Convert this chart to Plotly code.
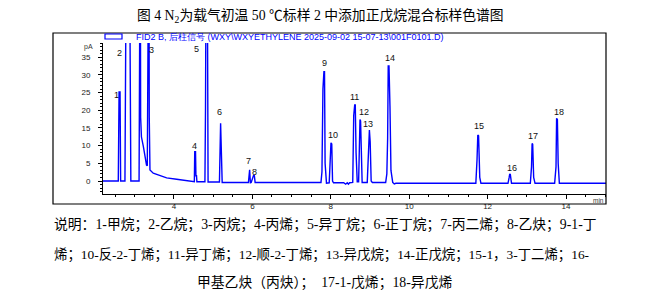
import plotly.graph_objects as go

# ---- data ----
rt_min = [2.19, 2.58, 2.60, 2.625, 2.64, 2.75, 2.77, 2.80, 2.84, 2.88, 2.90,
          3.11, 3.125, 3.14, 3.15, 3.17, 3.22, 3.26, 3.30, 3.32, 3.33, 3.345, 3.36, 3.37,
          3.388, 3.472, 3.643, 3.813, 4.068, 4.281, 4.493,
          4.52, 4.53, 4.55, 4.56, 4.575, 4.585,
          4.79, 4.805, 4.825, 4.845, 4.86, 4.87,
          5.16, 5.175, 5.19, 5.20, 5.215, 5.23,
          5.90, 5.915, 5.93, 5.95, 5.97, 6.03, 6.05, 6.07,
          7.75, 7.775, 7.80, 7.825, 7.84, 7.855, 7.87, 7.89,
          7.96, 7.99, 8.005, 8.025, 8.045, 8.07,
          8.33, 8.38, 8.42, 8.45, 8.48,
          8.56, 8.585, 8.61, 8.625, 8.645, 8.675,
          8.71, 8.73, 8.745, 8.76, 8.775, 8.80,
          8.93, 8.955, 8.97, 8.985, 9.005, 9.03, 9.06,
          9.40, 9.43, 9.45, 9.465, 9.485, 9.51, 9.535, 9.58, 9.62, 9.66,
          11.0, 11.70, 11.73, 11.75, 11.77, 11.80, 11.83,
          12.52, 12.55, 12.565, 12.58, 12.61,
          13.09, 13.12, 13.135, 13.15, 13.175, 13.21,
          13.71, 13.745, 13.76, 13.78, 13.80, 13.83, 15.02]
signal_pa = [0.0, 0.0, 25.2, 25.2, 0.0, 0.0, 40, 90, 90, 40, 0.0,
             0.0, 80, 80, 18, 12.5, 9.7, 6.9, 4.5, 4.3, 32, 80, 80, 18,
             3.1, 2.2, 1.5, 0.9, 0.5, 0.1, -0.1,
             -0.2, 8.3, 8.3, 1.5, 1.5, -0.2,
             -0.2, 21, 80, 80, 0.0, -0.3,
             -0.3, 16.3, 16.3, 12, -0.3, -0.4,
             -0.4, 3.2, 3.2, -0.5, -0.4, 1.6, 1.6, -0.4,
             -0.4, 2.6, 26, 30.9, 30.9, 5, 1.5, -0.6,
             -0.5, 5.5, 10.8, 10.5, 0.0, -0.5,
             -0.5, -0.9, -0.5, -0.9, -0.5,
             -0.4, 18.5, 21.5, 21.5, 8, -0.2,
             -0.2, 15, 17.4, 17.0, 8, -0.4,
             -0.4, 8, 14.4, 14.4, 11, 0.0, -0.4,
             -0.4, 2, 12, 32.5, 32.5, 21, 3, -0.4, -0.8, -0.65,
             -0.65, -0.65, 6, 13, 12.8, 1, -0.65,
             -0.65, 1, 2.0, 1.8, -0.65,
             -0.65, 4, 10.6, 10.4, 1, -0.65,
             -0.65, 4, 17.7, 17.4, 5, -0.65, -0.65]

peak_labels = ["1", "2", "3", "4", "5", "6", "7", "8", "9", "10",
               "11", "12", "13", "14", "15", "16", "17", "18"]
label_x = [2.546, 2.622, 3.439, 4.536, 4.579, 5.173, 5.913, 6.066, 7.827, 8.048,
           8.617, 8.847, 8.941, 9.51, 11.773, 12.622, 13.15, 13.814]
label_y = [24.3, 36.2, 37.0, 10.0, 37.3, 19.6, 5.6, 2.6, 33.4, 13.0,
           23.8, 19.4, 16.1, 34.8, 15.5, 3.6, 12.7, 19.6]

x_ticks = [4, 6, 8, 10, 12, 14]
y_ticks = [0, 5, 10, 15, 20, 25, 30, 35]

title_text = "图 4 N<sub>2</sub>为载气初温 50 ℃标样 2 中添加正戊烷混合标样色谱图"
legend_text = "FID2 B, 后柱信号 (WXY\\WXYETHYLENE 2025-09-02 15-07-13\\001F0101.D)"
caption_lines = [
    "说明：1-甲烷；2-乙烷；3-丙烷；4-丙烯；5-异丁烷；6-正丁烷；7-丙二烯；8-乙炔；9-1-丁",
    "烯；10-反-2-丁烯；11-异丁烯；12-顺-2-丁烯；13-异戊烷；14-正戊烷；15-1，3-丁二烯；16-",
    "甲基乙炔（丙炔）；  17-1-戊烯；18-异戊烯",
]

# ---- layout geometry (pixels) ----
W, H = 660, 292
L, R, T, B = 103, 606, 43, 194
PW, PH = R - L, B - T

def px(x):
    return (x - L) / PW

def py(y):
    return (B - y) / PH

BLUE = "#0000ff"
SERIF_CJK = "Liberation Serif, Noto Sans CJK SC"
SANS = "Liberation Sans, Arial, sans-serif"

fig = go.Figure()
fig.add_trace(go.Scatter(x=rt_min, y=signal_pa, mode="lines",
                         line=dict(color=BLUE, width=1.4), showlegend=False,
                         hoverinfo="skip"))

annotations = []
for t, xx, yy in zip(peak_labels, label_x, label_y):
    annotations.append(dict(x=xx, y=yy, xref="x", yref="y", text=t, showarrow=False,
                            font=dict(family=SANS, size=9, color="#111111"),
                            xanchor="center", yanchor="middle"))

annotations.append(dict(x=px(320), y=py(16), xref="paper", yref="paper", text=title_text,
                        showarrow=False, font=dict(family=SERIF_CJK, size=13.8, color="#000"),
                        xanchor="center", yanchor="middle"))
annotations.append(dict(x=px(134), y=py(37), xref="paper", yref="paper", text=legend_text,
                        showarrow=False, font=dict(family=SANS, size=9, color=BLUE),
                        xanchor="left", yanchor="middle"))
annotations.append(dict(x=px(88), y=py(47), xref="paper", yref="paper", text="pA",
                        showarrow=False, font=dict(family=SANS, size=7, color="#333"),
                        xanchor="center", yanchor="middle"))
annotations.append(dict(x=px(598), y=py(200), xref="paper", yref="paper", text="min",
                        showarrow=False, font=dict(family=SANS, size=6.5, color="#333"),
                        xanchor="center", yanchor="middle"))
annotations.append(dict(x=px(52), y=py(225), xref="paper", yref="paper", text=caption_lines[0],
                        showarrow=False, font=dict(family=SERIF_CJK, size=13.8, color="#000"),
                        xanchor="left", yanchor="middle"))
annotations.append(dict(x=px(52), y=py(255), xref="paper", yref="paper", text=caption_lines[1],
                        showarrow=False, font=dict(family=SERIF_CJK, size=13.4, color="#000"),
                        xanchor="left", yanchor="middle"))
annotations.append(dict(x=px(324), y=py(282), xref="paper", yref="paper", text=caption_lines[2],
                        showarrow=False, font=dict(family=SERIF_CJK, size=13.8, color="#000"),
                        xanchor="center", yanchor="middle"))

shapes = [
    dict(type="rect", xref="paper", yref="paper", x0=px(53), x1=px(606), y0=py(204), y1=py(33),
         line=dict(color="#000", width=1.2)),
    dict(type="rect", xref="paper", yref="paper", x0=px(105), x1=px(122), y0=py(39), y1=py(34),
         line=dict(color=BLUE, width=1.2)),
]

fig.update_layout(
    width=W, height=H,
    margin=dict(l=L, r=W - R, t=T, b=H - B),
    paper_bgcolor="white", plot_bgcolor="white",
    annotations=annotations, shapes=shapes,
    xaxis=dict(range=[2.19, 15.02], tickvals=x_ticks, ticks="outside", ticklen=4,
               tickcolor="#000", showline=True, linecolor="#000", linewidth=1,
               showgrid=False, zeroline=False,
               tickfont=dict(family=SANS, size=8, color="#222"),
               minor=dict(dtick=0.5, ticks="outside", ticklen=2, tickcolor="#000")),
    yaxis=dict(range=[-3.67, 39.0], tickvals=y_ticks, ticks="outside", ticklen=4,
               tickcolor="#000", showline=True, linecolor="#000", linewidth=1,
               showgrid=False, zeroline=False, ticklabelstandoff=6,
               tickfont=dict(family=SANS, size=8, color="#222"),
               minor=dict(dtick=1, ticks="outside", ticklen=2, tickcolor="#000")),
)

fig.write_html("out.html")
